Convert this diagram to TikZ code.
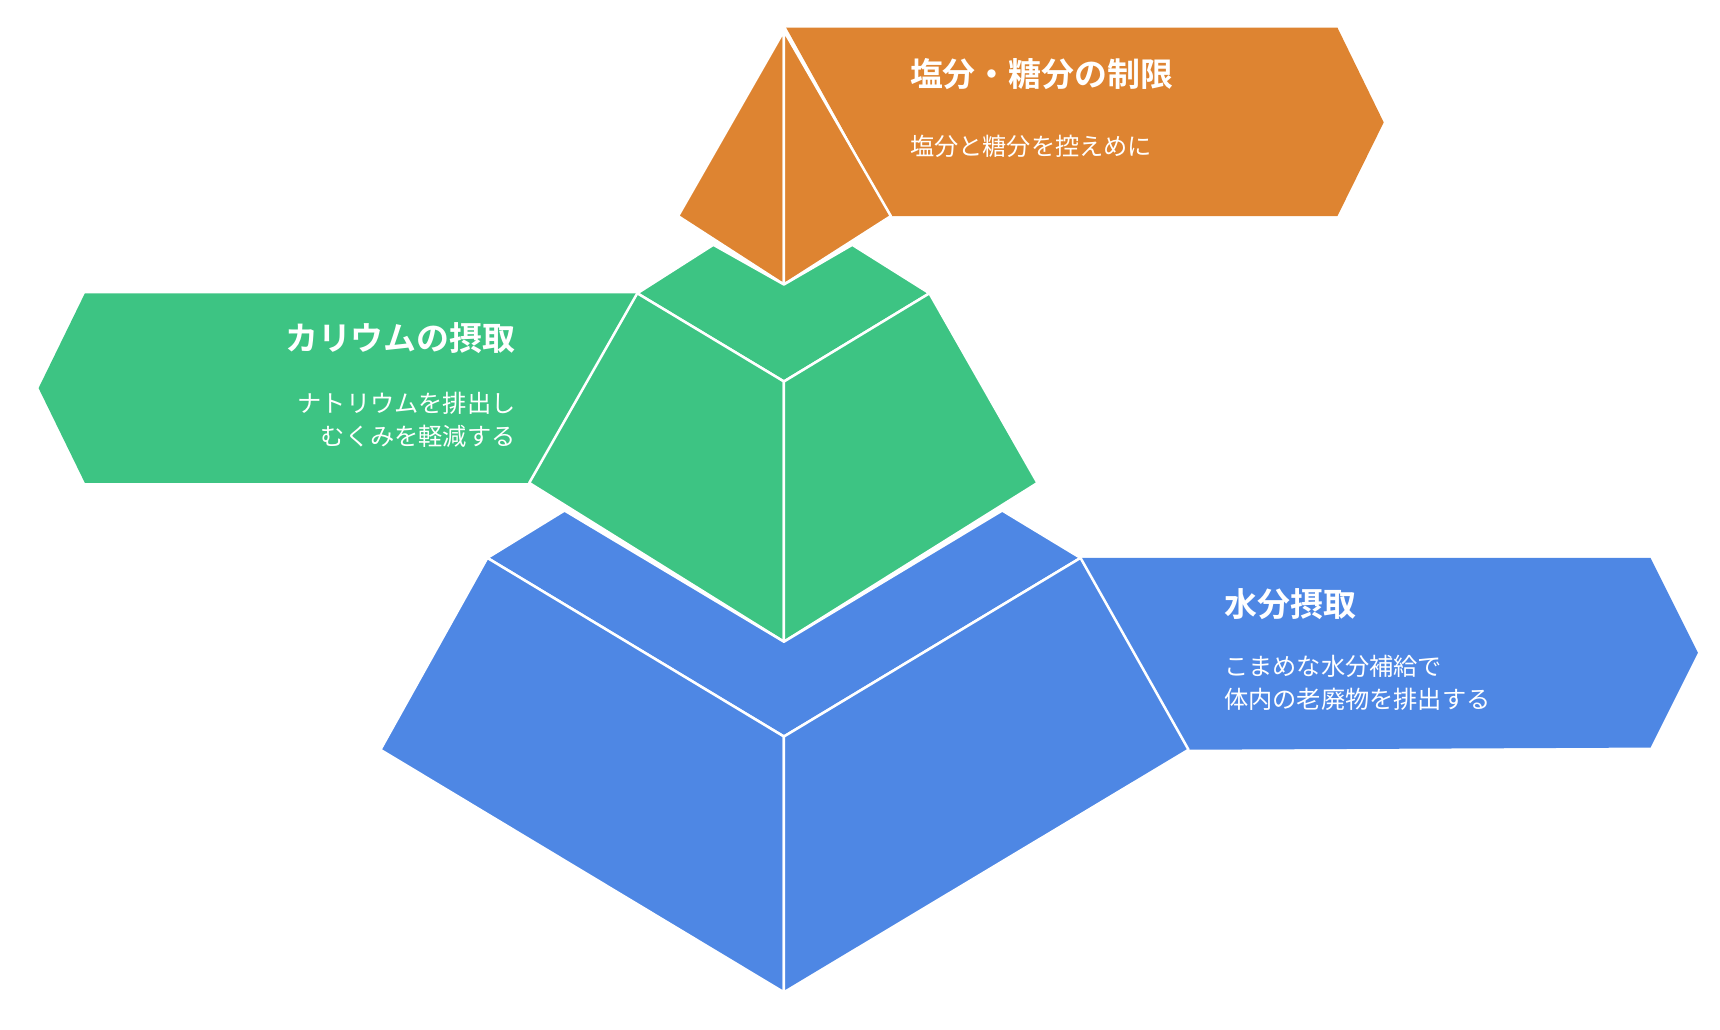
\documentclass[tikz,border=0pt]{standalone}
\usepackage{fontspec}
\newfontfamily\cjk{Noto Sans CJK JP}
\newfontfamily\cjkbold{Noto Sans CJK JP Bold}
\definecolor{saltorange}{HTML}{DE8431}
\definecolor{kgreen}{HTML}{3DC483}
\definecolor{waterblue}{HTML}{4E87E4}
\tikzset{
  face/.style={draw=white, line width=1.3pt, line join=round},
  title/.style={font=\cjkbold\fontsize{17}{20}\selectfont, text=white, inner sep=0pt},
  sub/.style={font=\cjk\fontsize{12.5}{17}\selectfont, text=white, inner sep=0pt}
}
\begin{document}
\begin{tikzpicture}[x=0.02cm, y=-0.02cm]

\useasboundingbox (0,0) rectangle (1560,934);

% orange top
\coordinate(Oa) at (711, 28);
\coordinate(Ob) at (615, 196);
\coordinate(Oc) at (711, 258);
\coordinate(Od) at (808, 196);

\fill[saltorange] (713,25) -- (1213,25) -- (1255,111) -- (1213,196) -- (Od) -- cycle;
\filldraw[face, fill=saltorange] (Oa) -- (Ob) -- (Oc) -- cycle;
\filldraw[face, fill=saltorange] (Oa) -- (Od) -- (Oc) -- cycle;

% green middle
\coordinate(Ga) at (578, 266);
\coordinate(Gb) at (843, 266);
\coordinate(Gc) at (711, 346);
\coordinate(Gd) at (480, 438);
\coordinate(Ge) at (941, 438);
\coordinate(Gf) at (711, 582);

\fill[kgreen] (77,266) -- (Ga) -- (Gd) -- (77,438) -- (35,352) -- cycle;
\filldraw[face, fill=kgreen] (Ga) -- (647,222) -- (Oc) -- (773,222) -- (Gb) -- (Gc) -- cycle;
\filldraw[face, fill=kgreen] (Ga) -- (Gc) -- (Gf) -- (Gd) -- cycle;
\filldraw[face, fill=kgreen] (Gb) -- (Ge) -- (Gf) -- (Gc) -- cycle;

% blue bottom
\coordinate(Ba) at (442, 506);
\coordinate(Bb) at (980, 506);
\coordinate(Bc) at (711, 668);
\coordinate(Bd) at (345, 680);
\coordinate(Be) at (1078, 680);
\coordinate(Bf) at (711, 900);

\fill[waterblue] (Bb) -- (1497,506) -- (1540,592) -- (1497,678) -- (Be) -- cycle;
\filldraw[face, fill=waterblue] (Ba) -- (512,463) -- (Gf) -- (909,463) -- (Bb) -- (Bc) -- cycle;
\filldraw[face, fill=waterblue] (Ba) -- (Bc) -- (Bf) -- (Bd) -- cycle;
\filldraw[face, fill=waterblue] (Bb) -- (Be) -- (Bf) -- (Bc) -- cycle;

% labels
\node[title, anchor=west] (salt) at (825,67) {塩分・糖分の制限};
\node[sub, anchor=west] (saltsub) at (825,133) {塩分と糖分を控えめに};

\node[title, anchor=east] (kal) at (468,307) {カリウムの摂取};
\node[sub, anchor=north east, align=right] (kalsub) at (468,355) {ナトリウムを排出し\\むくみを軽減する};

\node[title, anchor=west] (water) at (1110,548) {水分摂取};
\node[sub, anchor=north west, align=left] (watersub) at (1110,594) {こまめな水分補給で\\体内の老廃物を排出する};

\end{tikzpicture}
\end{document}
